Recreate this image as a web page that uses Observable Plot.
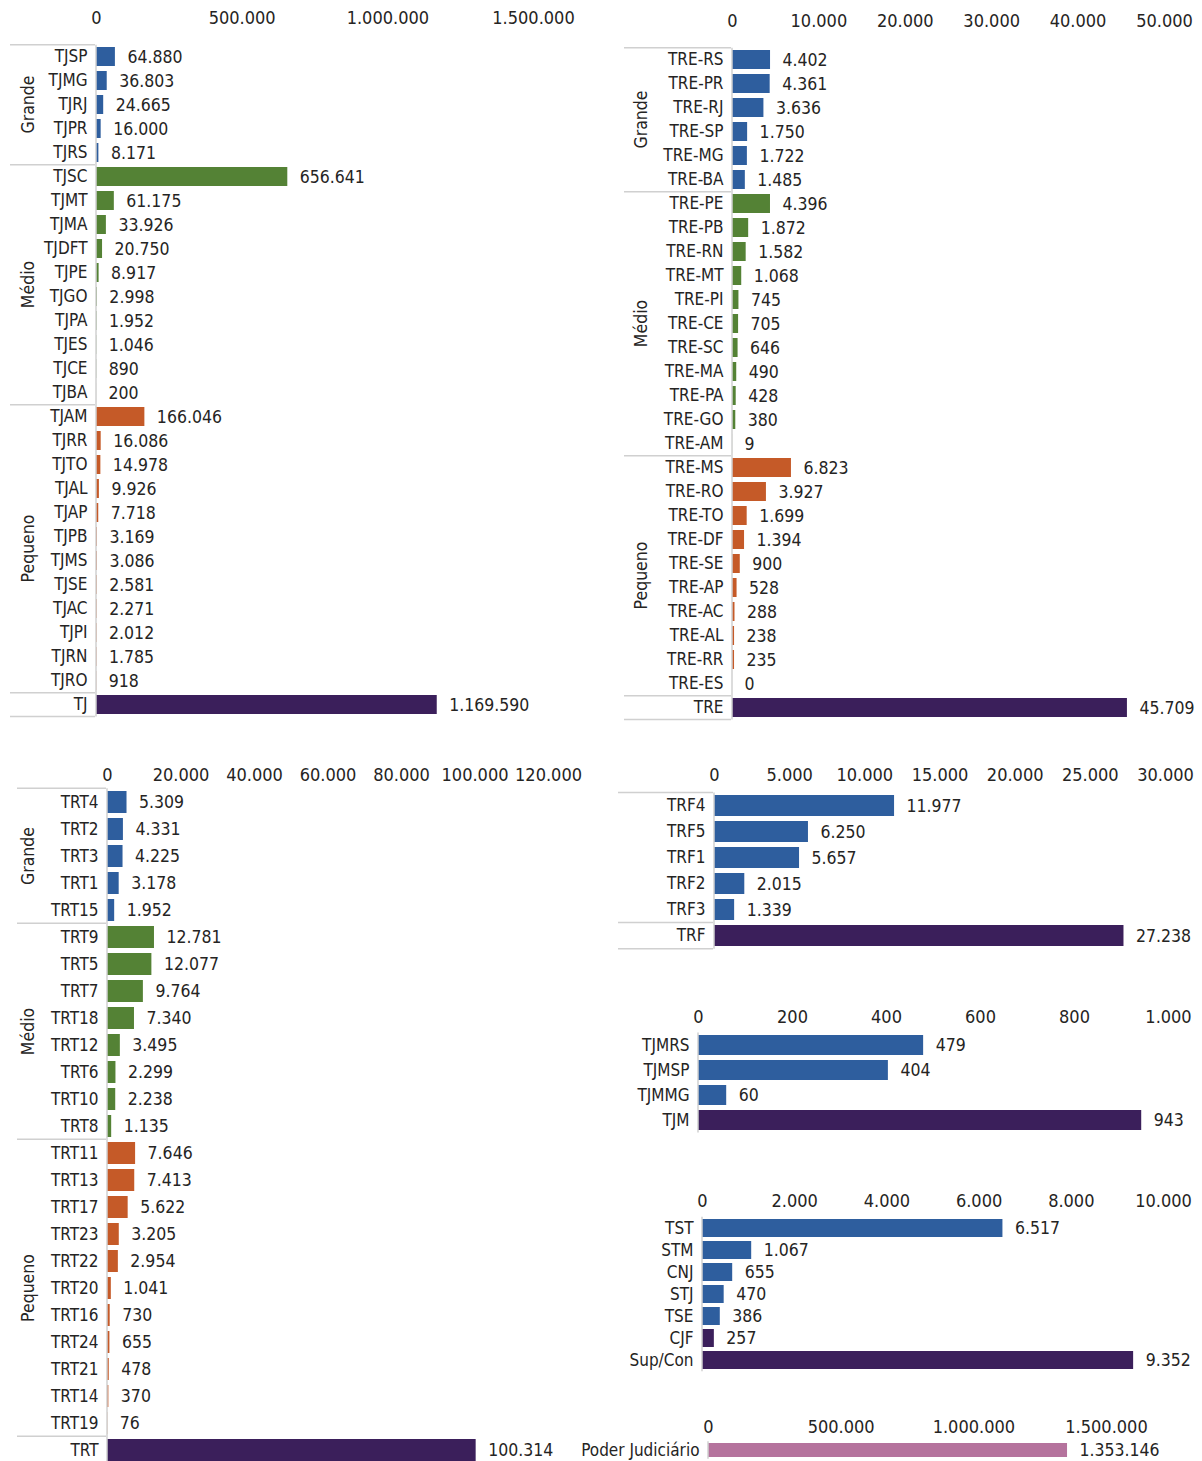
<!DOCTYPE html>
<html><head><meta charset="utf-8">
<script src="https://cdn.jsdelivr.net/npm/d3@7"></script>
<script src="https://cdn.jsdelivr.net/npm/@observablehq/plot@0.6"></script>
<style>
body{margin:0;background:#fff}
#root{position:relative;width:1202px;height:1461px;overflow:hidden;background:#fff}
#root svg{position:absolute;overflow:visible}
</style></head><body><div id="root"></div>
<script>
// ---------- DATA ----------
const tjNames  = ["TJSP","TJMG","TJRJ","TJPR","TJRS","TJSC","TJMT","TJMA","TJDFT","TJPE","TJGO","TJPA","TJES","TJCE","TJBA","TJAM","TJRR","TJTO","TJAL","TJAP","TJPB","TJMS","TJSE","TJAC","TJPI","TJRN","TJRO","TJ"];
const tjValues = [64880,36803,24665,16000,8171,656641,61175,33926,20750,8917,2998,1952,1046,890,200,166046,16086,14978,9926,7718,3169,3086,2581,2271,2012,1785,918,1169590];
const tjGroups = ["Grande","Grande","Grande","Grande","Grande","Médio","Médio","Médio","Médio","Médio","Médio","Médio","Médio","Médio","Médio","Pequeno","Pequeno","Pequeno","Pequeno","Pequeno","Pequeno","Pequeno","Pequeno","Pequeno","Pequeno","Pequeno","Pequeno","Total"];
const tjTicks  = [0,500000,1000000,1500000];

const treNames  = ["TRE-RS","TRE-PR","TRE-RJ","TRE-SP","TRE-MG","TRE-BA","TRE-PE","TRE-PB","TRE-RN","TRE-MT","TRE-PI","TRE-CE","TRE-SC","TRE-MA","TRE-PA","TRE-GO","TRE-AM","TRE-MS","TRE-RO","TRE-TO","TRE-DF","TRE-SE","TRE-AP","TRE-AC","TRE-AL","TRE-RR","TRE-ES","TRE"];
const treValues = [4402,4361,3636,1750,1722,1485,4396,1872,1582,1068,745,705,646,490,428,380,9,6823,3927,1699,1394,900,528,288,238,235,0,45709];
const treGroups = ["Grande","Grande","Grande","Grande","Grande","Grande","Médio","Médio","Médio","Médio","Médio","Médio","Médio","Médio","Médio","Médio","Médio","Pequeno","Pequeno","Pequeno","Pequeno","Pequeno","Pequeno","Pequeno","Pequeno","Pequeno","Pequeno","Total"];
const treTicks  = [0,10000,20000,30000,40000,50000];

const trtNames  = ["TRT4","TRT2","TRT3","TRT1","TRT15","TRT9","TRT5","TRT7","TRT18","TRT12","TRT6","TRT10","TRT8","TRT11","TRT13","TRT17","TRT23","TRT22","TRT20","TRT16","TRT24","TRT21","TRT14","TRT19","TRT"];
const trtValues = [5309,4331,4225,3178,1952,12781,12077,9764,7340,3495,2299,2238,1135,7646,7413,5622,3205,2954,1041,730,655,478,370,76,100314];
const trtGroups = ["Grande","Grande","Grande","Grande","Grande","Médio","Médio","Médio","Médio","Médio","Médio","Médio","Médio","Pequeno","Pequeno","Pequeno","Pequeno","Pequeno","Pequeno","Pequeno","Pequeno","Pequeno","Pequeno","Pequeno","Total"];
const trtTicks  = [0,20000,40000,60000,80000,100000,120000];

const trfNames  = ["TRF4","TRF5","TRF1","TRF2","TRF3","TRF"];
const trfValues = [11977,6250,5657,2015,1339,27238];
const trfGroups = ["Tribunal","Tribunal","Tribunal","Tribunal","Tribunal","Total"];
const trfTicks  = [0,5000,10000,15000,20000,25000,30000];

const tjmNames  = ["TJMRS","TJMSP","TJMMG","TJM"];
const tjmValues = [479,404,60,943];
const tjmGroups = ["Tribunal","Tribunal","Tribunal","Total"];
const tjmTicks  = [0,200,400,600,800,1000];

const supNames  = ["TST","STM","CNJ","STJ","TSE","CJF","Sup/Con"];
const supValues = [6517,1067,655,470,386,257,9352];
const supGroups = ["Tribunal","Tribunal","Tribunal","Tribunal","Tribunal","Conselho","Total"];
const supTicks  = [0,2000,4000,6000,8000,10000];

const pjNames  = ["Poder Judiciário"];
const pjValues = [1353146];
const pjGroups = ["Geral"];
const pjTicks  = [0,500000,1000000,1500000];

const colorKeys   = ["Grande","Médio","Pequeno","Tribunal","Conselho","Total","Geral"];
const colorValues = ["#2E5E9E","#548235","#C55A28","#2E5E9E","#3B1F5B","#3B1F5B","#B5739D"];
const sizeGroups  = ["Grande","Médio","Pequeno"];

// ---------- DRAW ----------
const FONT = '"DejaVu Sans Condensed","DejaVu Sans",sans-serif';
const TXT = "#252423";
const LINE = "#d0d0d0";
const FS_TICK = 18, FS_VAL = 17.5, FS_CAT = 17, FS_GRP = 17.5;
const fmt = d3.formatLocale({decimal: ",", thousands: ".", grouping: [3], currency: ["R$ ", ""]}).format(",d");
const root = document.getElementById("root");

function panel(cfg) {
  const {names, values, groups, ticks, left, width, top, x0, xEnd, firstCenter, step, tickY, sepLeft, groupX, seps} = cfg;
  const n = names.length, p = 0.2;
  const start = firstCenter - 0.6 * step;
  const stop = start + step * (n + p);
  const height = Math.ceil(stop - top) + 2;
  const data = names.map((name, i) => ({name, value: values[i], group: groups[i]}));
  const tickPadding = start - (tickY + 0.36 * FS_TICK);
  const svg = Plot.plot({
    width, height,
    marginLeft: x0 - left, marginRight: left + width - xEnd,
    marginTop: start - top, marginBottom: height - (stop - top),
    style: {fontFamily: FONT, fontSize: FS_CAT + "px", color: TXT, background: "transparent", overflow: "visible"},
    x: {domain: [0, ticks[ticks.length - 1]], axis: null},
    y: {domain: names, padding: p, axis: null},
    color: {domain: colorKeys, range: colorValues},
    marks: [
      Plot.axisX(ticks, {anchor: "top", tickSize: 0, tickPadding, tickFormat: fmt, label: null, fontSize: FS_TICK}),
      Plot.axisY({anchor: "left", tickSize: 0, tickPadding: 9, label: null, fontSize: FS_CAT}),
      Plot.barX(data, {x: "value", y: "name", fill: "group"}),
      Plot.text(data, {x: "value", y: "name", text: d => fmt(d.value), textAnchor: "start", dx: 12, fontSize: FS_VAL, fill: TXT})
    ]
  });
  svg.style.left = left + "px";
  svg.style.top = top + "px";
  const y = svg.scale("y");
  const bw = y.bandwidth, st = bw / (1 - p);
  const bandTop = name => y.apply(name) - (st - bw) / 2;
  const ax = x0 - left;
  const g = d3.select(svg).append("g");
  const yTop = bandTop(names[0]), yBot = bandTop(names[n - 1]) + st;
  g.append("line").attr("x1", ax).attr("x2", ax).attr("y1", yTop).attr("y2", yBot)
    .attr("stroke", LINE).attr("stroke-width", 1.5);
  if (seps) {
    const ys = [];
    names.forEach((nm, i) => { if (i === 0 || groups[i] !== groups[i - 1]) ys.push(bandTop(nm)); });
    ys.push(yBot);
    ys.forEach(yy => g.append("line").attr("x1", sepLeft - left).attr("x2", ax - 1)
      .attr("y1", yy).attr("y2", yy).attr("stroke", LINE).attr("stroke-width", 1.5));
  }
  if (groupX != null) {
    sizeGroups.forEach(gr => {
      const idx = names.map((d, i) => i).filter(i => groups[i] === gr);
      if (!idx.length) return;
      const cy = (y.apply(names[idx[0]]) + y.apply(names[idx[idx.length - 1]]) + bw) / 2;
      const cx = groupX - left;
      g.append("text").attr("transform", `translate(${cx},${cy}) rotate(-90)`)
        .attr("text-anchor", "middle").attr("dy", "0.35em")
        .attr("font-size", FS_GRP).attr("fill", TXT).text(gr);
    });
  }
  root.appendChild(svg);
}

panel({names: tjNames, values: tjValues, groups: tjGroups, ticks: tjTicks,
  left: 0, width: 600, top: 0, x0: 96, xEnd: 533, firstCenter: 53.5, step: 24.25, tickY: 17,
  sepLeft: 10, groupX: 28, seps: true});
panel({names: treNames, values: treValues, groups: treGroups, ticks: treTicks,
  left: 600, width: 602, top: 0, x0: 732, xEnd: 1164, firstCenter: 56.5, step: 24.25, tickY: 20,
  sepLeft: 624, groupX: 641, seps: true});
panel({names: trtNames, values: trtValues, groups: trtGroups, ticks: trtTicks,
  left: 0, width: 600, top: 750, x0: 107, xEnd: 548, firstCenter: 800.5, step: 27.15, tickY: 774,
  sepLeft: 17, groupX: 28, seps: true});
panel({names: trfNames, values: trfValues, groups: trfGroups, ticks: trfTicks,
  left: 600, width: 602, top: 750, x0: 714, xEnd: 1165, firstCenter: 803.5, step: 26.65, tickY: 774,
  sepLeft: 618, seps: true});
panel({names: tjmNames, values: tjmValues, groups: tjmGroups, ticks: tjmTicks,
  left: 600, width: 602, top: 995, x0: 698, xEnd: 1168, firstCenter: 1045, step: 25, tickY: 1016,
  seps: false});
panel({names: supNames, values: supValues, groups: supGroups, ticks: supTicks,
  left: 600, width: 602, top: 1180, x0: 702, xEnd: 1163, firstCenter: 1225, step: 23, tickY: 1200,
  seps: false});
panel({names: pjNames, values: pjValues, groups: pjGroups, ticks: pjTicks,
  left: 560, width: 642, top: 1405, x0: 708, xEnd: 1106, firstCenter: 1450, step: 18.75, tickY: 1426,
  seps: false});
</script></body></html>
